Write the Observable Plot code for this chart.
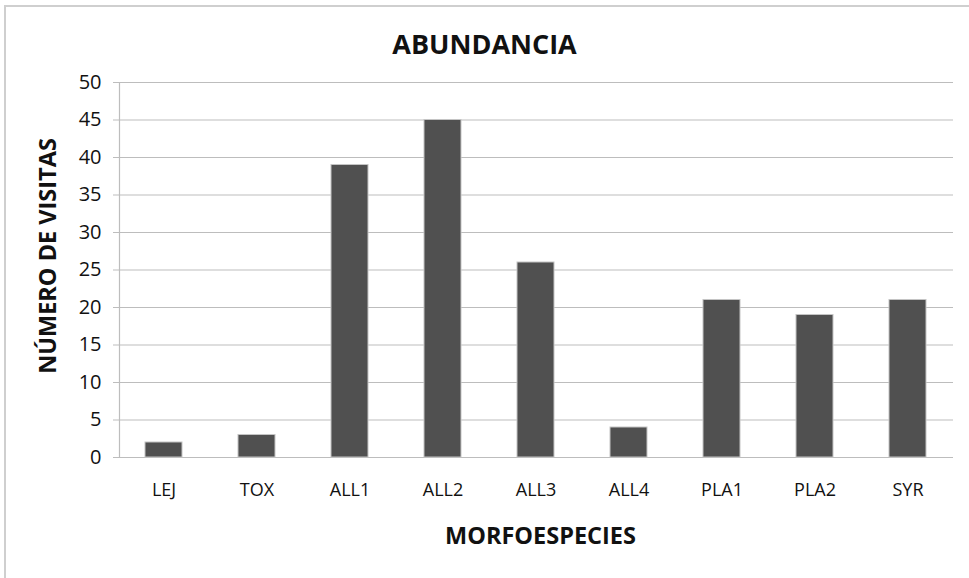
<!DOCTYPE html>
<html>
<head>
<meta charset="utf-8">
<script src="https://cdn.jsdelivr.net/npm/d3@7"></script>
<script src="https://cdn.jsdelivr.net/npm/@observablehq/plot@0.6"></script>
<style>
  html, body { margin: 0; padding: 0; background: #fff; overflow: hidden; }
  #wrap { position: relative; width: 969px; height: 578px; }
  #border { position: absolute; left: 4px; top: 5px; width: 1000px; height: 1000px; border: 2px solid #cfcfcf; box-sizing: border-box; pointer-events: none; }
</style>
</head>
<body>
<div id="wrap"><div id="border"></div></div>
<script>
const categories = ["LEJ", "TOX", "ALL1", "ALL2", "ALL3", "ALL4", "PLA1", "PLA2", "SYR"];
const visits = [2, 3, 39, 45, 26, 4, 21, 19, 21];
const yTicks = [0, 5, 10, 15, 20, 25, 30, 35, 40, 45, 50];
const title = "ABUNDANCIA";
const xLabel = "MORFOESPECIES";
const yLabel = "NÚMERO DE VISITAS";

const data = categories.map((c, i) => ({cat: c, value: visits[i]}));
const font = "'Open Sans', sans-serif";

const chart = Plot.plot({
  width: 969,
  height: 578,
  marginTop: 82,
  marginBottom: 121,
  marginLeft: 119,
  marginRight: 16,
  style: {fontFamily: font, background: "transparent", overflow: "visible"},
  x: {domain: categories, paddingInner: 0.6, paddingOuter: 0.28, label: null},
  y: {domain: [0, 50], label: null},
  marks: [
    Plot.gridY(yTicks, {stroke: "#bdbdbd", strokeOpacity: 1, strokeWidth: 1.2}),
    Plot.axisY(yTicks, {tickSize: 6, tickPadding: 12, stroke: "#bdbdbd", fontSize: 20, fill: "#111", label: null}),
    Plot.frame({anchor: "left", stroke: "#bdbdbd", strokeWidth: 1.2}),
    Plot.barY(data, {x: "cat", y: "value", fill: "#505050", stroke: "#c4c4c4", strokeWidth: 1}),
    Plot.axisX({tickSize: 0, tickPadding: 26, fontSize: 18, fill: "#111", label: null}),
    Plot.text([title], {frameAnchor: "top", lineAnchor: "middle", dx: -52, dy: -37, fontSize: 27, fontWeight: "bold", fill: "#111"}),
    Plot.text([xLabel], {frameAnchor: "bottom", lineAnchor: "middle", dx: 4, dy: 79, fontSize: 23.5, fontWeight: "bold", fill: "#111"}),
    Plot.text([yLabel], {frameAnchor: "left", textAnchor: "middle", lineAnchor: "middle", dx: -71, dy: -14, rotate: -90, fontSize: 23.5, fontWeight: "bold", fill: "#111"})
  ]
});
document.getElementById("wrap").prepend(chart);
</script>
</body>
</html>
